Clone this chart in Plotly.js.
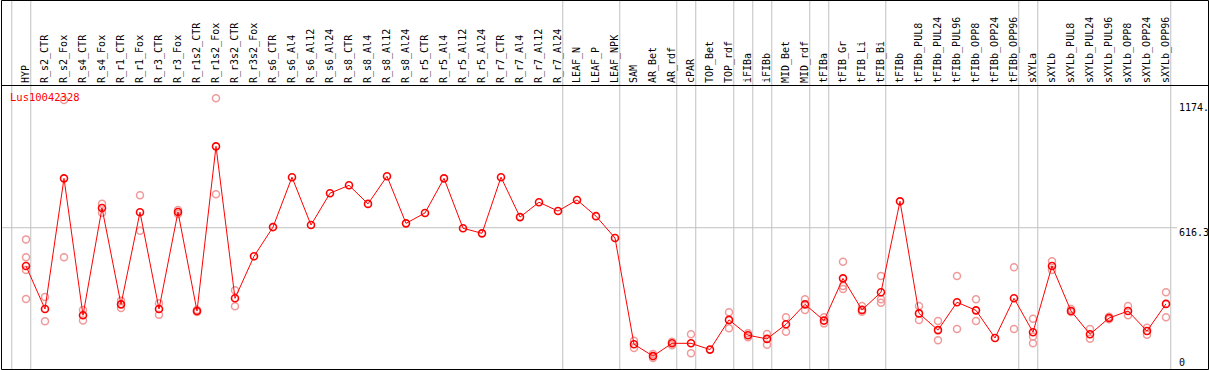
<!DOCTYPE html>
<html>
<head>
<meta charset="utf-8">
<script src="https://cdn.plot.ly/plotly-3.0.1.min.js"></script>
<style>html,body{margin:0;padding:0;background:#fff;}#chart{width:1209px;height:370px;}</style>
</head>
<body>
<div id="chart"></div>
<script>
const geneName = "Lus10042328";
const categories = ["HYP","R_s2_CTR","R_s2_Fox","R_s4_CTR","R_s4_Fox","R_r1_CTR","R_r1_Fox","R_r3_CTR","R_r3_Fox","R_r1s2_CTR","R_r1s2_Fox","R_r3s2_CTR","R_r3s2_Fox","R_s6_CTR","R_s6_Al4","R_s6_Al12","R_s6_Al24","R_s8_CTR","R_s8_Al4","R_s8_Al12","R_s8_Al24","R_r5_CTR","R_r5_Al4","R_r5_Al12","R_r5_Al24","R_r7_CTR","R_r7_Al4","R_r7_Al12","R_r7_Al24","LEAF_N","LEAF_P","LEAF_NPK","SAM","AR_Bet","AR_rdf","cPAR","TOP_Bet","TOP_rdf","iFIBa","iFIBb","MID_Bet","MID_rdf","tFIBa","tFIB_Gr","tFIB_Li","tFIB_Bi","tFIBb","tFIBb_PUL8","tFIBb_PUL24","tFIBb_PUL96","tFIBb_OPP8","tFIBb_OPP24","tFIBb_OPP96","sXYLa","sXYLb","sXYLb_PUL8","sXYLb_PUL24","sXYLb_PUL96","sXYLb_OPP8","sXYLb_OPP24","sXYLb_OPP96"];
const means = [451,266,829,239,701,286,683,266,684,257,967,312,493,619,834,628,765,799,719,838,635,680,829,614,592,834,662,726,688,736,666,572,114,63,118,118,91,219,153,137,200,286,216,398,262,338,730,247,175,295,260,141,312,166,451,257,157,227,257,171,288];
const rep1 = [566,318,1167,262,720,302,756,291,693,262,1174,347,null,null,null,null,null,null,null,null,null,null,null,null,null,null,null,null,null,null,null,null,129,72,125,157,null,252,161,158,230,308,230,470,279,408,null,279,214,408,308,null,446,224,472,266,180,233,279,185,338];
const rep2 = [489,213,489,216,681,270,603,241,675,253,760,278,null,null,null,null,null,null,null,null,null,null,null,null,null,null,null,null,null,null,null,null,98,55,110,75,null,183,144,112,168,262,204,365,254,308,null,219,131,180,214,null,180,147,434,253,138,222,239,155,230];
const rep3 = [434,null,null,null,null,null,null,null,null,null,null,null,null,null,null,null,null,null,null,null,null,null,null,null,null,null,null,null,null,null,null,null,null,null,null,null,null,null,null,null,null,null,null,352,null,293,null,null,null,null,null,null,null,118,null,null,null,null,null,null,null];
const rep4 = [309,null,null,null,null,null,null,null,null,null,null,null,null,null,null,null,null,null,null,null,null,null,null,null,null,null,null,null,null,null,null,null,null,null,null,null,null,null,null,null,null,null,null,null,null,null,null,null,null,null,null,null,null,null,null,null,null,null,null,null,null];
const groupEnds = [-1,0,28,31,34,35,37,38,39,41,42,45,52,53,60];
const refValue = 616.3;
const yLabels = ["1174.","616.3","0"];

// geometry helpers (pixel -> paper)
const W = 1209, H = 370, ML = 2, MR = 1, MT = 86, MB = 1;
const PW = W - ML - MR, PH = H - MT - MB;
const px = p => (p - ML) / PW;
const py = p => (H - MB - p) / PH;

const idx = categories.map((c, i) => i);
const rx = [], ry = [];
[rep1, rep2, rep3, rep4].forEach(r => r.forEach((v, i) => { if (v !== null) { rx.push(i); ry.push(v); } }));

const traces = [
  {x: rx, y: ry, type: 'scatter', mode: 'markers', hoverinfo: 'skip',
   marker: {symbol: 'circle-open', size: 7, color: '#f09a9a', line: {width: 1.5, color: '#f09a9a'}}},
  {x: idx, y: means, type: 'scatter', mode: 'lines+markers',
   line: {color: '#ff0000', width: 1},
   marker: {symbol: 'circle-open', size: 7, color: '#ff0000', line: {width: 1.6, color: '#ff0000'}}}
];

const shapes = [];
groupEnds.forEach(g => {
  shapes.push({type: 'line', xref: 'x', yref: 'paper', x0: g + 0.25, x1: g + 0.25, y0: py(370), y1: py(0),
    line: {color: '#c0c0c0', width: 1}, layer: 'below'});
});
shapes.push({type: 'line', xref: 'paper', yref: 'y', x0: px(1), x1: px(1177), y0: refValue, y1: refValue,
  line: {color: '#c0c0c0', width: 1}, layer: 'below'});
// frame
shapes.push({type: 'rect', xref: 'paper', yref: 'paper', x0: px(1.5), x1: px(1208.5), y0: py(369.5), y1: py(0.5),
  line: {color: '#000', width: 1}, fillcolor: 'rgba(0,0,0,0)'});
shapes.push({type: 'line', xref: 'paper', yref: 'paper', x0: px(1.5), x1: px(1208.5), y0: py(85.5), y1: py(85.5),
  line: {color: '#000', width: 1}});

const mono = {family: 'DejaVu Sans Mono, monospace', size: 10, color: '#000'};
const annotations = [
  {xref: 'paper', yref: 'paper', x: px(1177), y: py(107), text: yLabels[0], showarrow: false, xanchor: 'left', yanchor: 'middle', font: mono},
  {xref: 'paper', yref: 'paper', x: px(1177), y: py(232.7), text: yLabels[1], showarrow: false, xanchor: 'left', yanchor: 'middle', font: mono},
  {xref: 'paper', yref: 'paper', x: px(1177), y: py(362), text: yLabels[2], showarrow: false, xanchor: 'left', yanchor: 'middle', font: mono},
  {xref: 'paper', yref: 'paper', x: px(8), y: py(96.7), text: geneName, showarrow: false, xanchor: 'left', yanchor: 'middle',
   font: {family: 'DejaVu Sans Mono, monospace', size: 10.5, color: '#ff0000'}}
];

const layout = {
  width: W, height: H,
  margin: {l: ML, r: MR, t: MT, b: MB, pad: 0},
  paper_bgcolor: '#fff', plot_bgcolor: '#fff',
  showlegend: false,
  xaxis: {side: 'top', range: [(2 - 26) / 19, (1208 - 26) / 19], tickvals: idx, ticktext: categories,
    tickangle: -90, tickfont: mono, ticks: '', ticklabelstandoff: 2, showgrid: false, zeroline: false, showline: false, fixedrange: true},
  yaxis: {range: [(370.7 - 369) / 0.23202, (370.7 - 86) / 0.23202], showticklabels: false, showgrid: false,
    zeroline: false, showline: false, ticks: ''},
  shapes: shapes,
  annotations: annotations
};

Plotly.newPlot('chart', traces, layout, {staticPlot: true, displayModeBar: false});
</script>
</body>
</html>
